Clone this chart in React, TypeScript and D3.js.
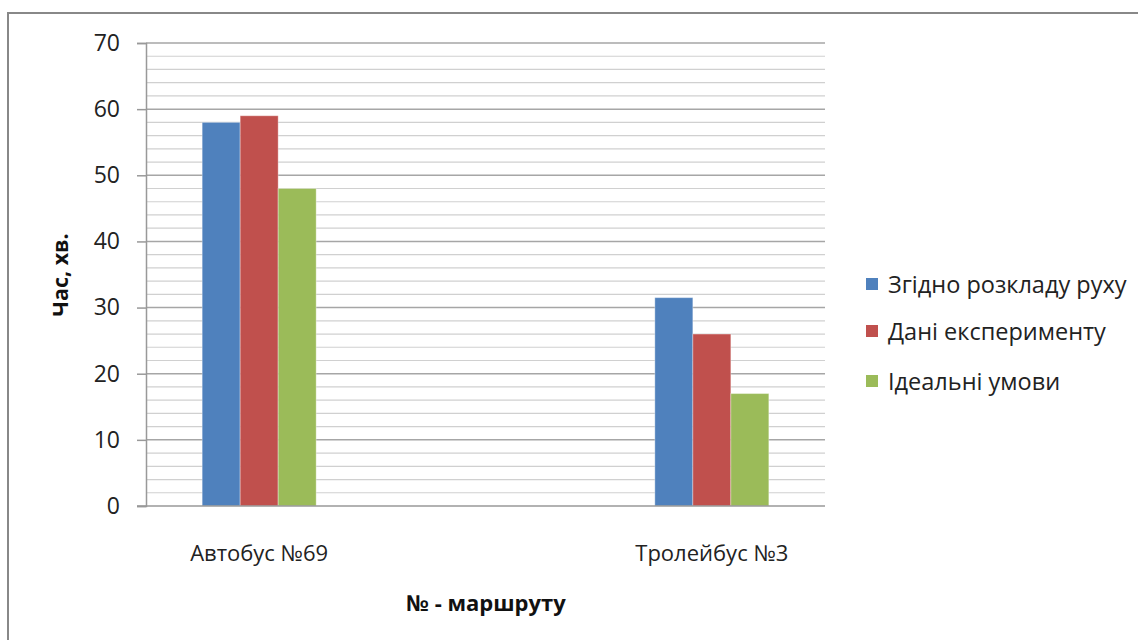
import { useEffect, useRef } from "react";
import { axisLeft, range, scaleBand, scaleLinear, scalePoint, select } from "d3";

const routes = ["Автобус №69", "Тролейбус №3"];
const seriesNames = ["Згідно розкладу руху", "Дані експерименту", "Ідеальні умови"];
const scheduleValues = [58, 31.5];
const experimentValues = [59, 26];
const idealValues = [48, 17];
const yTicks = [0, 10, 20, 30, 40, 50, 60, 70];
const colors = ["#4F81BD", "#C0504D", "#9BBB59"];

const FONT = "'Open Sans', 'Noto Sans', sans-serif";

export default function App() {
  const ref = useRef<SVGSVGElement>(null);

  useEffect(() => {
    const width = 1138;
    const height = 640;
    const plot = { left: 146, right: 825, top: 43, bottom: 506 };
    const allValues = [scheduleValues, experimentValues, idealValues];

    const svg = select(ref.current);
    svg.selectAll("*").remove();
    svg.attr("width", width).attr("height", height);

    svg.append("rect").attr("width", width).attr("height", height).attr("fill", "#fff");

    // outer frame (only the left and top edges are in view)
    svg.append("path")
      .attr("d", `M8,${height} L8,13 L${width},13`)
      .attr("fill", "none")
      .attr("stroke", "#888")
      .attr("stroke-width", 2);

    const x = scalePoint<string>()
      .domain(routes)
      .range([plot.left, plot.right])
      .padding(0.25);

    const inner = scaleBand<number>()
      .domain([0, 1, 2])
      .range([-57, 57]);

    const y = scaleLinear().domain([0, 70]).range([plot.bottom, plot.top]);

    // minor gridlines
    svg.append("g")
      .selectAll("line")
      .data(range(2, 70, 2).filter(v => v % 10 !== 0))
      .enter()
      .append("line")
      .attr("x1", plot.left)
      .attr("x2", plot.right)
      .attr("y1", d => y(d))
      .attr("y2", d => y(d))
      .attr("stroke", "#d0d0d0")
      .attr("stroke-width", 1.2);

    // major gridlines
    svg.append("g")
      .selectAll("line")
      .data(yTicks.slice(1))
      .enter()
      .append("line")
      .attr("x1", plot.left)
      .attr("x2", plot.right)
      .attr("y1", d => y(d))
      .attr("y2", d => y(d))
      .attr("stroke", "#a6a6a6")
      .attr("stroke-width", 1.5);

    // bars
    allValues.forEach((vals, si) => {
      svg.append("g")
        .selectAll("rect")
        .data(vals)
        .enter()
        .append("rect")
        .attr("x", (_d, i) => (x(routes[i]) as number) + (inner(si) as number))
        .attr("y", d => y(d))
        .attr("width", inner.bandwidth())
        .attr("height", d => plot.bottom - y(d))
        .attr("fill", colors[si])
        .attr("stroke", "#ffffff")
        .attr("stroke-opacity", 0.35)
        .attr("stroke-width", 1);
    });

    // y axis
    const yAxis = svg.append("g")
      .attr("transform", `translate(${plot.left},0)`)
      .call(axisLeft(y).tickValues(yTicks).tickSize(9).tickPadding(17));
    yAxis.select(".domain").attr("stroke", "#999").attr("stroke-width", 1.5);
    yAxis.selectAll(".tick line").attr("stroke", "#999").attr("stroke-width", 1.5);
    yAxis.selectAll(".tick text")
      .attr("font-family", FONT)
      .attr("font-size", 23)
      .attr("fill", "#222");

    // x baseline
    svg.append("line")
      .attr("x1", plot.left - 9)
      .attr("x2", plot.right)
      .attr("y1", plot.bottom)
      .attr("y2", plot.bottom)
      .attr("stroke", "#999")
      .attr("stroke-width", 1.5);

    // category labels
    svg.append("g")
      .selectAll("text")
      .data(routes)
      .enter()
      .append("text")
      .attr("x", d => x(d) as number)
      .attr("y", 561)
      .attr("text-anchor", "middle")
      .attr("font-family", FONT)
      .attr("font-size", 22)
      .attr("fill", "#222")
      .text(d => d);

    // axis titles
    svg.append("text")
      .attr("x", 486)
      .attr("y", 611)
      .attr("text-anchor", "middle")
      .attr("font-family", FONT)
      .attr("font-size", 22)
      .attr("font-weight", "bold")
      .attr("fill", "#111")
      .text("№ - маршруту");

    svg.append("text")
      .attr("transform", "translate(68,275) rotate(-90)")
      .attr("text-anchor", "middle")
      .attr("font-family", FONT)
      .attr("font-size", 21.5)
      .attr("font-weight", "bold")
      .attr("fill", "#111")
      .text("Час, хв.");

    // legend
    const legend = svg.append("g")
      .selectAll("g")
      .data(seriesNames)
      .enter()
      .append("g")
      .attr("transform", (_d, i) => `translate(866,${[284, 331, 381][i]})`);
    legend.append("rect")
      .attr("x", 0)
      .attr("y", -6)
      .attr("width", 12)
      .attr("height", 12)
      .attr("fill", (_d, i) => colors[i]);
    legend.append("text")
      .attr("x", 22)
      .attr("y", 9)
      .attr("font-family", FONT)
      .attr("font-size", 23.5)
      .attr("fill", "#222")
      .text(d => d);
  }, []);

  return <svg ref={ref} style={{ position: "absolute", left: 0, top: 0 }} />;
}
